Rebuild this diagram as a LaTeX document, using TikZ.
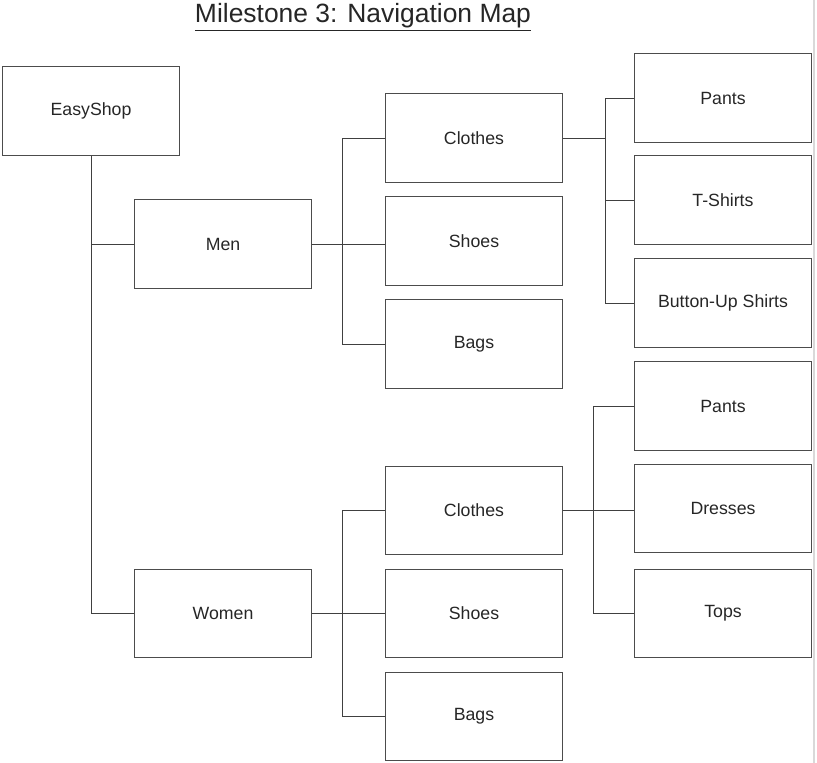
\documentclass[tikz,border=0pt]{standalone}
\usepackage{fontspec}
\setmainfont{Liberation Sans}
\usetikzlibrary{positioning,calc}

\begin{document}
\begin{tikzpicture}[x=0.025cm,y=-0.025cm]
      \tikzstyle{every node}=[font=\fontsize{12.6}{14}\selectfont, text=black!85]
      \tikzstyle{page}=[draw=black!70, line width=0.7pt, minimum width=4.4cm, minimum height=2.2cm]
      \tikzstyle{link}=[draw=black!75, line width=0.7pt]

      \useasboundingbox (0,0) rectangle (817,763);
      \draw[black!15, line width=1pt] (814,0) -- (814,763);

      \node[font=\fontsize{18.8}{21}\selectfont] (title) at (363,17) {\underline{Milestone 3: Navigation Map}};

      % top level
      \node[page] (easyshop) at (91,111) {EasyShop};
      \node[page] (men) at (223,244) {Men};
      \node[page] (women) at (223,613) {Women};

      % men
      \node[page] (menclothes) at (474,138) {Clothes};
      \node[page] (menshoes) at (474,241) {Shoes};
      \node[page] (menbags) at (474,344) {Bags};
      \node[page] (menpants) at (723,98) {Pants};
      \node[page] (tshirts) at (723,200) {T-Shirts};
      \node[page] (buttonup) at (723,303) {Button-Up Shirts};

      % women
      \node[page] (womenclothes) at (474,510) {Clothes};
      \node[page] (womenshoes) at (474,613) {Shoes};
      \node[page] (womenbags) at (474,716) {Bags};
      \node[page] (womenpants) at (723,406) {Pants};
      \node[page] (dresses) at (723,508) {Dresses};
      \node[page] (tops) at (723,613) {Tops};

      \coordinate (menfork) at (342,244);
      \coordinate (womenfork) at (342,613);
      \coordinate (menclothesfork) at (605,138);
      \coordinate (womenclothesfork) at (593,510);

      \draw[link] (easyshop.south) |- (men.west);
      \draw[link] (easyshop.south) |- (women.west);

      \draw[link] (men.east) -- (men.east -| menshoes.west);
      \foreach \n in {menclothes,menbags}
          \draw[link] (menfork) |- (\n.west);

      \draw[link] (women.east) -- (womenshoes.west);
      \foreach \n in {womenclothes,womenbags}
          \draw[link] (womenfork) |- (\n.west);

      \draw[link] (menclothes.east) -- (menclothesfork);
      \foreach \n in {menpants,tshirts,buttonup}
          \draw[link] (menclothesfork) |- (\n.west);

      \draw[link] (womenclothes.east) -- (womenclothes.east -| dresses.west);
      \foreach \n in {womenpants,tops}
          \draw[link] (womenclothesfork) |- (\n.west);

\end{tikzpicture}
\end{document}
